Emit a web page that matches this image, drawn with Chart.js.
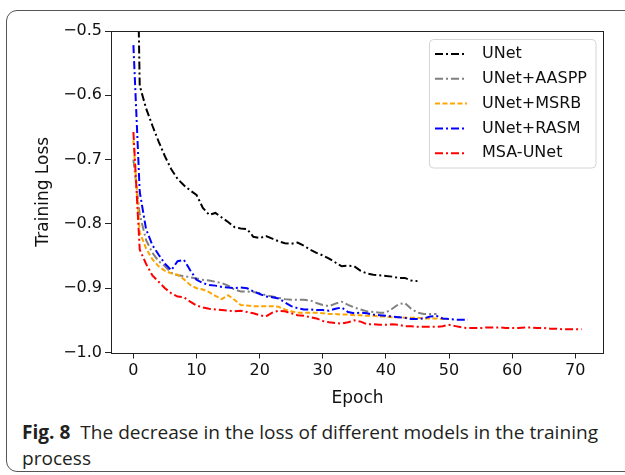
<!DOCTYPE html>
<html>
<head>
<meta charset="utf-8">
<script src="https://cdn.jsdelivr.net/npm/chart.js@4.4.1/dist/chart.umd.min.js"></script>
<style>
  html, body { margin: 0; padding: 0; background: #fff; }
  #wrap { position: relative; width: 625px; height: 475px; overflow: hidden; background: #fff; }
  #frame { position: absolute; left: 6px; top: 10px; width: 640px; height: 462px;
           border: 1px solid #555; border-radius: 11px; box-sizing: border-box; }
  #c { position: absolute; left: 0; top: 0; }
  #cap { position: absolute; left: 22px; top: 419px; font-family: "Open Sans", sans-serif;
         font-size: 19px; line-height: 26px; color: #231f20; white-space: nowrap;
         transform-origin: 0 0; }
  #cap b { font-weight: 700; }
</style>
</head>
<body>
<div id="wrap">
  <div id="frame"></div>
  <canvas id="c" width="625" height="413"></canvas>
  <div id="cap"><span id="l1"><b>Fig. 8</b>&nbsp; The decrease in the loss of different models in the training</span><br>process</div>
</div>
<script>
// ---- data ----
const seriesNames = ["UNet", "UNet+AASPP", "UNet+MSRB", "UNet+RASM", "MSA-UNet"];
const unetLoss = [0.0, -0.585, -0.620, -0.647, -0.672, -0.695, -0.715, -0.730, -0.740, -0.748,
  -0.755, -0.775, -0.786, -0.783, -0.790, -0.797, -0.805, -0.807, -0.808, -0.820,
  -0.822, -0.819, -0.823, -0.827, -0.830, -0.831, -0.829, -0.834, -0.840, -0.845,
  -0.849, -0.854, -0.860, -0.866, -0.865, -0.866, -0.873, -0.877, -0.879, -0.880,
  -0.881, -0.882, -0.884, -0.884, -0.888, -0.889];
const aasppLoss = [-0.700, -0.785, -0.825, -0.845, -0.858, -0.866, -0.876, -0.880, -0.881, -0.883,
  -0.885, -0.887, -0.888, -0.890, -0.892, -0.896, -0.902, -0.905, -0.905, -0.906,
  -0.908, -0.911, -0.913, -0.915, -0.917, -0.918, -0.918, -0.918, -0.919, -0.923,
  -0.926, -0.928, -0.924, -0.921, -0.926, -0.930, -0.933, -0.936, -0.937, -0.938,
  -0.938, -0.932, -0.925, -0.923, -0.932, -0.938, -0.940, -0.940, -0.940];
const msrbLoss = [-0.670, -0.813, -0.838, -0.855, -0.866, -0.873, -0.877, -0.879, -0.886, -0.895,
  -0.900, -0.902, -0.906, -0.912, -0.917, -0.911, -0.918, -0.926, -0.927, -0.928,
  -0.928, -0.928, -0.928, -0.929, -0.933, -0.936, -0.938, -0.938, -0.938, -0.938,
  -0.939, -0.940, -0.940, -0.941, -0.941, -0.942, -0.942, -0.943, -0.943, -0.944,
  -0.944, -0.945, -0.945, -0.946, -0.946, -0.946, -0.947, -0.947, -0.947, -0.948, -0.948];
const rasmLoss = [-0.522, -0.750, -0.808, -0.833, -0.848, -0.862, -0.872, -0.858, -0.856, -0.872,
  -0.887, -0.892, -0.895, -0.896, -0.898, -0.899, -0.900, -0.899, -0.900, -0.905,
  -0.909, -0.913, -0.914, -0.916, -0.922, -0.928, -0.931, -0.933, -0.933, -0.934,
  -0.934, -0.935, -0.932, -0.930, -0.937, -0.939, -0.938, -0.939, -0.941, -0.942,
  -0.943, -0.944, -0.945, -0.946, -0.948, -0.948, -0.947, -0.944, -0.943, -0.947,
  -0.948, -0.949, -0.949, -0.949];
const msaLoss = [-0.657, -0.840, -0.862, -0.880, -0.890, -0.900, -0.908, -0.913, -0.914, -0.921,
  -0.927, -0.930, -0.932, -0.933, -0.934, -0.935, -0.936, -0.935, -0.937, -0.939,
  -0.942, -0.944, -0.938, -0.935, -0.936, -0.939, -0.942, -0.943, -0.945, -0.947,
  -0.951, -0.953, -0.954, -0.955, -0.953, -0.950, -0.952, -0.956, -0.956, -0.957,
  -0.957, -0.956, -0.957, -0.959, -0.959, -0.960, -0.960, -0.960, -0.960, -0.959,
  -0.957, -0.959, -0.961, -0.962, -0.962, -0.962, -0.961, -0.961, -0.961, -0.962,
  -0.962, -0.962, -0.961, -0.961, -0.962, -0.962, -0.963, -0.963, -0.964, -0.964,
  -0.964, -0.964];
const xTickValues = [0, 10, 20, 30, 40, 50, 60, 70];
const yTickValues = [-1.0, -0.9, -0.8, -0.7, -0.6, -0.5];

// ---- styling ----
const colors = ["#000000", "#808080", "#ffa500", "#0000ff", "#ff0000"];
const dashDot = [8, 3, 2, 3];
const dashes = [dashDot, dashDot, [5, 2.5], dashDot, dashDot];
const allLoss = [unetLoss, aasppLoss, msrbLoss, rasmLoss, msaLoss];

Chart.defaults.font.family = "'DejaVu Sans', sans-serif";
Chart.defaults.color = "#111";

const datasets = allLoss.map((arr, i) => ({
  label: seriesNames[i],
  data: arr.map((v, k) => ({ x: k, y: v })),
  borderColor: colors[i],
  backgroundColor: colors[i],
  borderWidth: 2,
  borderDash: dashes[i],
  pointRadius: 0,
  tension: 0,
  fill: false,
  order: 5 - i
}));

const frameAndLegend = {
  id: 'frameAndLegend',
  afterDatasetsDraw(chart) {
    const ctx = chart.ctx, a = chart.chartArea;
    ctx.save();
    ctx.strokeStyle = '#222';
    ctx.lineWidth = 1;
    ctx.setLineDash([]);
    ctx.strokeRect(Math.round(a.left) + 0.5, Math.round(a.top) + 0.5,
                   Math.round(a.right - a.left) - 1, Math.round(a.bottom - a.top));
    // legend box
    const bx = 429.5, by = 39.5, bw = 166.5, bh = 128.5, r = 4;
    ctx.beginPath();
    ctx.moveTo(bx + r, by);
    ctx.arcTo(bx + bw, by, bx + bw, by + bh, r);
    ctx.arcTo(bx + bw, by + bh, bx, by + bh, r);
    ctx.arcTo(bx, by + bh, bx, by, r);
    ctx.arcTo(bx, by, bx + bw, by, r);
    ctx.closePath();
    ctx.fillStyle = 'rgba(255,255,255,0.85)';
    ctx.fill();
    ctx.strokeStyle = '#d4d4d4';
    ctx.stroke();
    chart.data.datasets.forEach((ds, i) => {
      const y = 54 + i * 24.8;
      ctx.beginPath();
      ctx.setLineDash(ds.borderDash);
      ctx.strokeStyle = ds.borderColor;
      ctx.lineWidth = 2;
      ctx.moveTo(435, y);
      ctx.lineTo(467, y);
      ctx.stroke();
      ctx.setLineDash([]);
      ctx.fillStyle = '#111';
      ctx.font = "16px 'DejaVu Sans'";
      ctx.textBaseline = 'middle';
      ctx.textAlign = 'left';
      ctx.fillText(ds.label, 482, y);
    });
    ctx.restore();
  }
};

new Chart(document.getElementById('c'), {
  type: 'line',
  data: { datasets },
  plugins: [frameAndLegend],
  options: {
    responsive: false,
    animation: false,
    devicePixelRatio: 1,
    layout: { padding: { left: 0, top: 31, right: 21, bottom: 0 } },
    plugins: { legend: { display: false }, tooltip: { enabled: false } },
    scales: {
      x: {
        type: 'linear',
        min: -3.55, max: 74.55,
        afterBuildTicks: s => { s.ticks = xTickValues.map(v => ({ value: v })); },
        afterFit: s => { s.height = 60.5; },
        ticks: { font: { size: 16 }, color: '#111', padding: 3, maxRotation: 0, autoSkip: false,
                 callback: v => String(v) },
        grid: { drawOnChartArea: false, drawTicks: true, tickLength: 6, tickColor: '#222', lineWidth: 1 },
        border: { display: false },
        title: { display: true, text: 'Epoch', font: { size: 17 }, color: '#111', padding: { top: 4, bottom: 4 } }
      },
      y: {
        type: 'linear',
        min: -1.0, max: -0.5,
        afterBuildTicks: s => { s.ticks = yTickValues.map(v => ({ value: v })); },
        afterFit: s => { s.width = 111; },
        ticks: { font: { size: 16 }, color: '#111', padding: 3, autoSkip: false,
                 callback: v => (v < 0 ? '\u2212' : '') + Math.abs(v).toFixed(1) },
        grid: { drawOnChartArea: false, drawTicks: true, tickLength: 6, tickColor: '#222', lineWidth: 1 },
        border: { display: false },
        title: { display: true, text: 'Training Loss', font: { size: 17 }, color: '#111', padding: { top: 33, bottom: 4 } }
      }
    }
  }
});

// fit caption first line to the reference width
(function () {
  const l1 = document.getElementById('l1');
  const w = l1.getBoundingClientRect().width;
  const target = 576;
  if (w > 0) document.getElementById('cap').style.transform = 'scaleX(' + (target / w).toFixed(4) + ')';
})();
</script>
</body>
</html>
